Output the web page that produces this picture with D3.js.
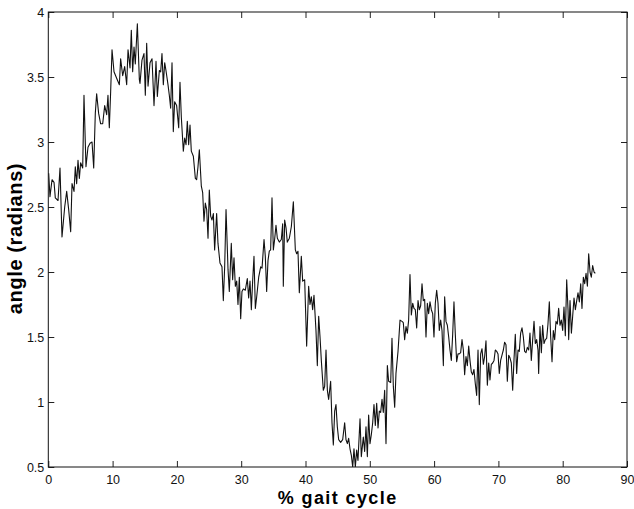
<!DOCTYPE html>
<html>
<head>
<meta charset="utf-8">
<script src="https://cdn.jsdelivr.net/npm/d3@7"></script>
<style>
  body { margin: 0; background: #fff; }
  svg { display: block; font-family: "Liberation Sans", Arial, Helvetica, sans-serif; }
</style>
</head>
<body>
<div class="chart"></div>
<script>
// [% gait cycle, angle (radians)], section by section
const earlyStance = [[0.06,2.76],[0.26,2.58],[0.58,2.71],[0.89,2.69],[1.09,2.57],[1.51,2.55],[1.82,2.80],[2.13,2.27],[2.55,2.50],[2.86,2.62],[3.17,2.48],[3.48,2.31],[3.69,2.68],[4.00,2.62],[4.20,2.81],[4.41,2.68],[4.62,2.86],[4.83,2.72],[5.03,2.84],[5.35,2.80],[5.55,3.36],[5.86,2.81],[6.17,2.96],[6.49,2.99],[6.80,3.00],[7.06,2.80],[7.31,3.22],[7.52,3.37],[7.83,3.22],[8.14,3.14],[8.46,3.14],[8.77,3.28],[9.08,3.21],[9.28,3.36],[9.49,3.11],[9.70,3.39],[9.91,3.71],[10.22,3.54],[10.63,3.49],[11.05,3.44],[11.25,3.64],[11.57,3.51],[11.88,3.58],[12.19,3.44],[12.40,3.71],[12.71,3.57],[12.91,3.86],[13.12,3.54],[13.33,3.73],[13.53,3.60],[13.85,3.91],[14.16,3.48]]
const midStance = [[14.26,3.45],[14.57,3.63],[14.88,3.68],[15.09,3.36],[15.30,3.76],[15.51,3.43],[15.82,3.61],[16.13,3.64],[16.44,3.28],[16.75,3.62],[16.96,3.35],[17.27,3.55],[17.48,3.54],[17.68,3.68],[17.89,3.44],[18.10,3.61],[18.30,3.55],[18.62,3.44],[18.82,3.36],[19.03,3.26],[19.24,3.61],[19.44,3.08],[19.65,3.31],[19.96,3.28],[20.28,3.11],[20.48,3.46],[20.69,3.19],[21.00,2.93],[21.21,3.03],[21.42,2.98],[21.62,3.16],[21.83,2.98],[22.04,3.13],[22.24,2.93],[22.56,2.89],[22.87,2.72],[23.07,2.71],[23.28,2.81],[23.49,2.94],[23.80,2.66],[24.01,2.61],[24.21,2.39],[24.42,2.53],[24.63,2.48],[24.84,2.26],[25.04,2.63],[25.25,2.43],[25.46,2.40],[25.67,2.45],[25.87,2.17],[26.18,2.45],[26.39,2.22],[26.70,2.07],[27.01,2.04],[27.22,1.78],[27.43,2.04],[27.64,2.48],[27.95,2.02],[28.15,1.85],[28.46,2.22]]
const lateStance = [[28.67,1.94],[28.88,2.11],[29.09,1.89],[29.30,1.93],[29.50,1.75],[29.71,1.96],[29.92,1.64],[30.12,1.85],[30.33,1.87],[30.64,1.86],[30.95,1.95],[31.16,1.80],[31.37,1.93],[31.58,1.71],[31.78,1.93],[31.99,2.12],[32.20,1.72],[32.41,1.81],[32.72,1.96],[33.03,2.04],[33.24,2.03],[33.55,2.25],[33.75,2.12],[33.96,1.85],[34.17,2.09],[34.37,2.16],[34.58,2.17],[34.79,2.57],[35.00,2.17],[35.20,2.25],[35.41,2.36],[35.62,2.26],[35.93,2.23],[36.24,2.25],[36.45,2.37],[36.55,1.89],[36.76,2.40],[36.97,2.34],[37.17,2.23],[37.49,2.26],[37.80,2.35],[38.11,2.54],[38.42,2.17],[38.63,2.14],[38.83,2.16],[39.04,1.84],[39.35,2.12],[39.56,1.93],[39.87,1.94],[40.18,1.43],[40.49,1.89],[40.70,1.75],[40.91,1.81],[41.11,1.71],[41.32,1.82],[41.63,1.55],[41.84,1.28],[42.05,1.66],[42.26,1.50],[42.46,1.32],[42.77,1.09]]
const preSwing = [[42.98,1.12],[43.19,1.40],[43.40,1.09],[43.60,1.02],[43.91,1.16],[44.12,0.84],[44.33,0.67],[44.54,0.93],[44.74,0.98],[44.95,0.81],[45.16,0.71],[45.47,0.69],[45.78,0.71],[46.09,0.84],[46.30,0.71],[46.51,0.68],[46.71,0.72],[46.92,0.64],[47.13,0.59],[47.34,0.50],[47.54,0.64],[47.75,0.50],[47.96,0.63],[48.16,0.55],[48.48,0.87],[48.68,0.58],[48.99,0.73],[49.20,0.62],[49.41,0.81],[49.62,0.58],[49.82,0.90],[50.03,0.68],[50.24,0.75],[50.45,0.84],[50.65,0.98],[50.86,0.82],[51.07,0.99],[51.28,0.80],[51.48,0.93],[51.69,0.92],[51.90,1.02],[52.10,0.92],[52.31,1.09],[52.52,0.68],[52.73,1.28],[52.93,1.16],[53.25,1.15],[53.45,1.49],[53.66,1.12],[53.87,0.96],[54.07,1.22],[54.39,1.39],[54.70,1.63],[55.01,1.62],[55.21,1.61],[55.42,1.48],[55.63,1.58],[55.84,1.53],[56.04,1.63],[56.25,1.98],[56.46,1.67],[56.67,1.76],[56.87,1.72],[57.08,1.71]]
const midSwing = [[57.29,1.57],[57.50,1.78],[57.70,1.71],[57.91,1.74],[58.12,1.91],[58.32,1.78],[58.53,1.79],[58.74,1.50],[58.95,1.76],[59.15,1.68],[59.36,1.77],[59.57,1.71],[59.78,1.68],[59.98,1.50],[60.19,1.76],[60.40,1.86],[60.61,1.76],[60.81,1.55],[61.02,1.63],[61.23,1.55],[61.44,1.28],[61.64,1.81],[61.85,1.62],[62.06,1.59],[62.27,1.50],[62.47,1.40],[62.68,1.32],[62.89,1.52],[63.09,1.77],[63.30,1.52],[63.51,1.31],[63.72,1.37],[63.92,1.37],[64.13,1.38],[64.34,1.48],[64.55,1.40],[64.75,1.21],[64.96,1.35],[65.17,1.28],[65.38,1.43],[65.58,1.32],[65.79,1.23],[66.00,1.21],[66.20,1.25],[66.41,1.14],[66.62,1.05],[66.83,1.40],[67.03,0.98],[67.24,1.37],[67.45,1.41],[67.66,1.29],[67.86,1.35],[68.07,1.47],[68.28,1.13],[68.49,1.30],[68.69,1.17],[68.90,1.29],[69.11,1.30],[69.32,1.32],[69.52,1.40],[69.73,1.39],[69.94,1.37],[70.14,1.22],[70.35,1.32],[70.56,1.36],[70.77,1.40],[70.97,1.46],[71.18,1.44],[71.39,1.16]]
const lateSwing = [[71.60,1.36],[71.80,1.34],[72.01,1.30],[72.22,1.09],[72.43,1.33],[72.63,1.52],[72.84,1.22],[73.05,1.40],[73.25,1.39],[73.46,1.53],[73.67,1.57],[73.88,1.50],[74.08,1.39],[74.29,1.38],[74.50,1.42],[74.71,1.40],[74.91,1.53],[75.12,1.32],[75.33,1.48],[75.54,1.62],[75.74,1.45],[75.95,1.48],[76.16,1.40],[76.26,1.22],[76.47,1.58],[76.68,1.38],[76.88,1.59],[77.09,1.45],[77.30,1.48],[77.51,1.49],[77.71,1.60],[77.92,1.77],[78.13,1.50],[78.34,1.31],[78.54,1.55],[78.75,1.48],[78.96,1.62],[79.17,1.60],[79.37,1.72],[79.58,1.59],[79.79,1.63],[80.00,1.55],[80.20,1.73],[80.41,1.51],[80.62,1.94],[80.83,1.71],[80.93,1.48],[81.14,1.78],[81.35,1.53],[81.55,1.66],[81.76,1.80],[81.97,1.71],[82.18,1.78],[82.38,1.84],[82.59,1.77],[82.80,1.91],[83.00,1.72],[83.21,1.96],[83.42,1.91],[83.63,1.99],[83.84,1.89],[84.04,2.14],[84.25,2.00],[84.45,1.96],[84.66,2.05],[84.87,2.00],[85.07,1.99]]

const xTicks = [0, 10, 20, 30, 40, 50, 60, 70, 80, 90]
const yTicks = [0.5, 1, 1.5, 2, 2.5, 3, 3.5, 4]

const data = [].concat(earlyStance, midStance, lateStance, preSwing, midSwing, lateSwing)

const W = 634, H = 509
const m = { left: 48.3, top: 12, right: 7, bottom: 42 }
const w = W - m.left - m.right
const h = H - m.top - m.bottom

const x = d3.scaleLinear().domain([0, 90]).range([0, w])
const y = d3.scaleLinear().domain([0.5, 4]).range([h, 0])

const svg = d3.select('.chart').append('svg')
  .attr('width', W).attr('height', H)

const g = svg.append('g').attr('transform', `translate(${m.left},${m.top})`)

g.append('clipPath').attr('id', 'clip')
  .append('rect').attr('width', w).attr('height', h)

// ticks point inward on all four sides, like the old matlab box
const styleAxis = sel => {
  sel.select('.domain').remove()
  sel.selectAll('line').attr('stroke', '#222')
  sel.selectAll('text').attr('fill', '#111').style('font-size', '12.5px')
}

g.append('g').attr('transform', `translate(0,${h})`)
  .call(d3.axisBottom(x).tickValues(xTicks).tickSizeInner(-6).tickSizeOuter(0).tickPadding(8))
  .call(styleAxis)

g.append('g')
  .call(d3.axisTop(x).tickValues(xTicks).tickSizeInner(-6).tickSizeOuter(0).tickFormat(''))
  .call(styleAxis)

g.append('g')
  .call(d3.axisLeft(y).tickValues(yTicks).tickSizeInner(-6).tickSizeOuter(0).tickPadding(4).tickFormat(d => String(d)))
  .call(styleAxis)

g.append('g').attr('transform', `translate(${w},0)`)
  .call(d3.axisRight(y).tickValues(yTicks).tickSizeInner(-6).tickSizeOuter(0).tickFormat(''))
  .call(styleAxis)

g.append('rect')
  .attr('width', w).attr('height', h)
  .attr('fill', 'none').attr('stroke', '#111').attr('stroke-width', 1)

const line = d3.line().x(d => x(d[0])).y(d => y(d[1]))

g.append('path')
  .datum(data)
  .attr('clip-path', 'url(#clip)')
  .attr('fill', 'none')
  .attr('stroke', '#111')
  .attr('stroke-width', 1.1)
  .attr('stroke-linejoin', 'round')
  .attr('d', line)

g.append('text')
  .attr('x', w / 2).attr('y', h + 37)
  .attr('text-anchor', 'middle')
  .style('font-size', '18px').style('font-weight', 'bold')
  .style('letter-spacing', '1.4px')
  .text('% gait cycle')

g.append('text')
  .attr('transform', `translate(${-26},${h / 2 - 1}) rotate(-90)`)
  .attr('text-anchor', 'middle')
  .style('font-size', '20px').style('font-weight', 'bold')
  .style('letter-spacing', '0.6px')
  .text('angle (radians)')
</script>
</body>
</html>
